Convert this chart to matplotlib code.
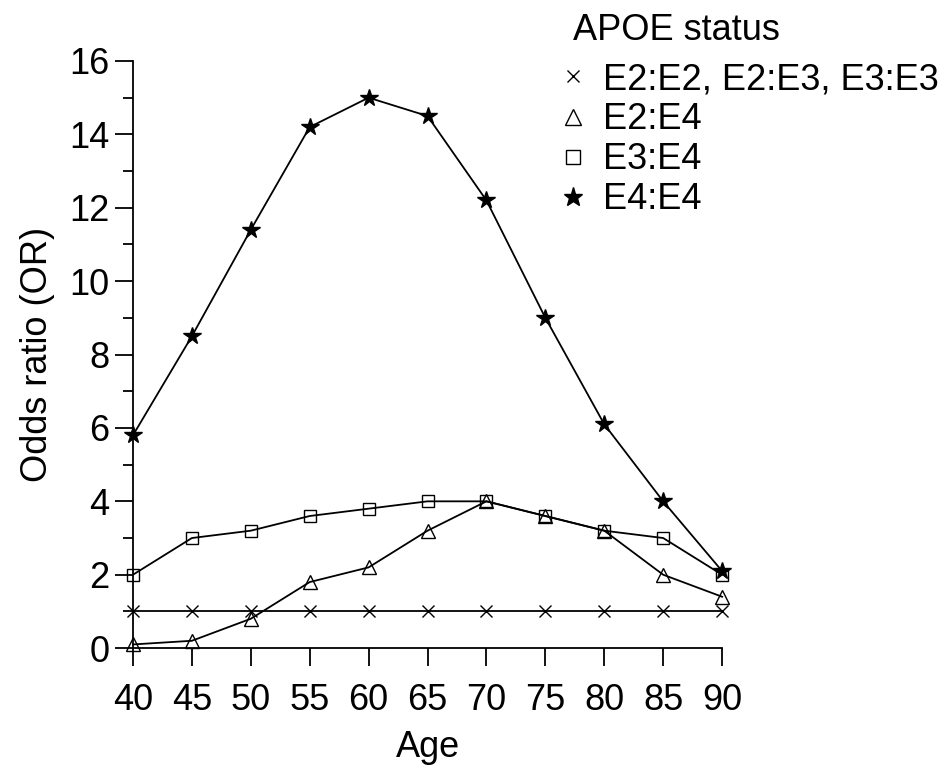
import matplotlib.pyplot as plt
from matplotlib.lines import Line2D
from matplotlib.ticker import MultipleLocator

plt.rcParams['font.family'] = ['Liberation Sans', 'DejaVu Sans']

ages = [40, 45, 50, 55, 60, 65, 70, 75, 80, 85, 90]
or_e2e2_e3e3 = [1, 1, 1, 1, 1, 1, 1, 1, 1, 1, 1]
or_e2e4 = [0.1, 0.2, 0.8, 1.8, 2.2, 3.2, 4.0, 3.6, 3.2, 2.0, 1.4]
or_e3e4 = [2.0, 3.0, 3.2, 3.6, 3.8, 4.0, 4.0, 3.6, 3.2, 3.0, 2.0]
or_e4e4 = [5.8, 8.5, 11.4, 14.2, 15.0, 14.5, 12.2, 9.0, 6.1, 4.0, 2.1]

labels = ['E2:E2, E2:E3, E3:E3', 'E2:E4', 'E3:E4', 'E4:E4']
series = [or_e2e2_e3e3, or_e2e4, or_e3e4, or_e4e4]
markers = ['x', '^', 's', '*']
msizes = [8, 10, 9, 13]
fills = ['none', 'none', 'none', 'black']

fig = plt.figure(figsize=(9.39, 7.67), dpi=100)
ax = fig.add_axes([0.1416, 0.155, 0.6274, 0.7655])

handles = []
for vals, m, ms, fc, lab in zip(series, markers, msizes, fills, labels):
    ax.plot(ages, vals, color='black', lw=1.3, marker=m, ms=ms, mfc=fc,
            mec='black', mew=1.0, clip_on=False, zorder=3)
    handles.append(Line2D([], [], ls='none', marker=m, ms=ms + 1, mfc=fc,
                          mec='black', mew=1.0, color='black', label=lab))

ax.set_xlim(40, 90)
ax.set_ylim(0, 16)
ax.set_xticks(ages)
ax.yaxis.set_major_locator(MultipleLocator(2))
ax.yaxis.set_minor_locator(MultipleLocator(1))

for s in ['top', 'right']:
    ax.spines[s].set_visible(False)
for s in ['left', 'bottom']:
    ax.spines[s].set_linewidth(1.3)

ax.tick_params(axis='both', which='major', direction='out', length=13,
               width=1.3, labelsize=26, pad=4)
ax.tick_params(axis='x', which='major', pad=12)
ax.tick_params(axis='y', which='minor', direction='out', length=7, width=1.3)

ax.set_xlabel('Age', fontsize=26, labelpad=9)
ax.set_ylabel('Odds ratio (OR)', fontsize=26, labelpad=10)

# legend title placed on its own, entries below it
fig.text(573 / 939, 1 - 30 / 767, 'APOE status', fontsize=26,
         ha='left', va='center')
fig.legend(handles=handles, loc='upper left', bbox_to_anchor=(0.5985, 0.919),
           frameon=False, fontsize=26, handlelength=0.6, handletextpad=0.53,
           labelspacing=0.14, borderpad=0, borderaxespad=0)

fig.savefig('out.png', dpi=100)
